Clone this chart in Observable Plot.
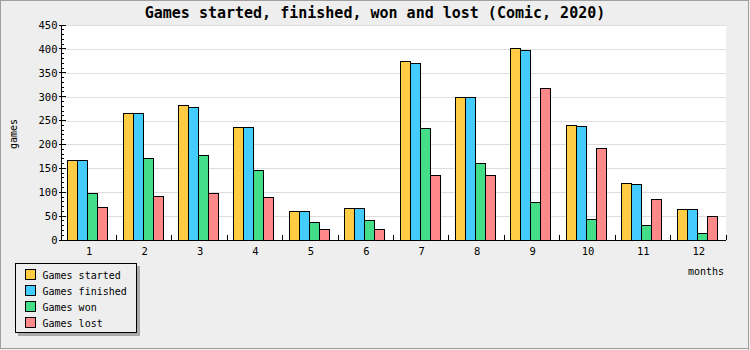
<!DOCTYPE html>
<html><head><meta charset="utf-8">
<script src="https://cdn.jsdelivr.net/npm/d3@7"></script>
<script src="https://cdn.jsdelivr.net/npm/@observablehq/plot@0.6"></script>
<style>body{margin:0;background:#eeeeee;} svg{display:block}</style>
</head><body><div id="chart"></div>
<script>
const months = [1,2,3,4,5,6,7,8,9,10,11,12];
const series = ["Games started","Games finished","Games won","Games lost"];
const colors = ["#ffcc44","#44ccff","#44dd88","#ff8888"];
const started  = [167,265,281,236,60,66,374,298,400,240,119,64];
const finished = [167,265,277,236,60,66,369,298,396,238,117,64];
const won      = [98,170,177,145,37,41,233,160,79,43,31,14];
const lost     = [67,92,98,88,23,23,135,135,317,191,85,49];
const yTicks = [0,50,100,150,200,250,300,350,400,450];
const yMinor = d3.range(0,451,10);
const titleText = "Games started, finished, won and lost (Comic, 2020)";
const yLabel = "games", xLabel = "months";

const valuesBySeries = [started, finished, won, lost];
const data = [];
months.forEach((m,i)=>series.forEach((s,j)=>data.push({month:m, series:s, value:valuesBySeries[j][i]})));

const mono = "'DejaVu Sans Mono', 'Liberation Mono', monospace";
const chart = Plot.plot({
  width: 750, height: 350,
  marginLeft: 61, marginRight: 24, marginTop: 25, marginBottom: 110,
  style: {background: "#eeeeee", fontFamily: mono, fontSize: "10.5px", color: "black"},
  fx: {domain: months, padding: 0, round: false, range: [61, 726], label: null},
  x: {domain: series, paddingInner: 0, paddingOuter: 0.77, align: 0.43, round: false, axis: null},
  y: {domain: [0,450], range: [240, 25], label: null},
  color: {domain: series, range: colors},
  marks: [
    Plot.barY(data, {fx:"month", x:"series", y:"value", fill:"series", stroke:"black", strokeWidth:1, shapeRendering:"crispEdges"}),
    Plot.axisFx({anchor:"bottom", tickSize:0, tickPadding:7, label:null}),
    Plot.axisY({ticks: yTicks, tickSize:0, tickPadding:4, label:null})
  ]
});
document.getElementById("chart").appendChild(chart);

const svg = d3.select(chart);
const fx = chart.scale("fx"), y = chart.scale("y");
const X0 = fx.range[0], X1 = fx.range[1];
const Yb = y.apply(0), Yt = y.apply(450);

// background + grid under everything
const bg = svg.insert("g", ":first-child");
bg.append("rect").attr("x",0.5).attr("y",0.5).attr("width",748).attr("height",348)
  .attr("fill","#eeeeee").attr("stroke","#a0a0a0");
bg.append("line").attr("x1",748.5).attr("x2",748.5).attr("y1",0).attr("y2",350).attr("stroke","#a0a0a0");
bg.append("rect").attr("x",X0).attr("y",Yt).attr("width",X1-X0).attr("height",Yb-Yt).attr("fill","white");
yTicks.filter(v=>v>0).forEach(v=>{
  const yy = Math.round(y.apply(v))+0.5;
  bg.append("line").attr("x1",X0).attr("x2",X1).attr("y1",yy).attr("y2",yy).attr("stroke","#dddddd");
});

// axes lines and ticks on top
const ax = svg.append("g").attr("stroke","black").attr("shape-rendering","crispEdges");
ax.append("line").attr("x1",X0).attr("x2",X0).attr("y1",Yt).attr("y2",Yb);
ax.append("line").attr("x1",X0).attr("x2",X1).attr("y1",Yb).attr("y2",Yb);
yMinor.forEach(v=>{
  const yy = y.apply(v), major = v % 50 === 0;
  ax.append("line").attr("x1", major ? X0-2 : X0).attr("x2", major ? X0+5 : X0+3).attr("y1",yy).attr("y2",yy);
});
months.forEach(m=>{
  const xx = fx.apply(m);
  ax.append("line").attr("x1",xx).attr("x2",xx).attr("y1",Yb-5).attr("y2",Yb);
});
ax.append("line").attr("x1",X1).attr("x2",X1).attr("y1",Yb-5).attr("y2",Yb);

const txt = svg.append("g").attr("font-family",mono).attr("fill","black").attr("text-anchor","start");
// title
txt.append("text").attr("x",375).attr("y",17.5).attr("text-anchor","middle")
  .attr("font-weight","bold").attr("font-size","15px").text(titleText);
// axis labels
txt.append("text").attr("transform","translate(17,134) rotate(-90)").attr("text-anchor","middle")
  .attr("font-size","10px").text(yLabel);
txt.append("text").attr("x",724).attr("y",275).attr("text-anchor","end")
  .attr("font-size","10px").text(xLabel);

// legend
const lg = svg.append("g");
lg.append("rect").attr("x",18).attr("y",266).attr("width",122).attr("height",70).attr("fill","#aaaaaa");
lg.append("rect").attr("x",15.5).attr("y",263.5).attr("width",121).attr("height",69).attr("fill","#eeeeee").attr("stroke","black");
series.forEach((s,i)=>{
  lg.append("rect").attr("x",25.5).attr("y",269.5+16*i).attr("width",10).attr("height",10)
    .attr("fill",colors[i]).attr("stroke","black");
  lg.append("text").attr("x",42.5).attr("y",278.5+16*i).attr("text-anchor","start")
    .attr("font-family",mono).attr("font-size","10px").attr("fill","black").text(s);
});
</script></body></html>
